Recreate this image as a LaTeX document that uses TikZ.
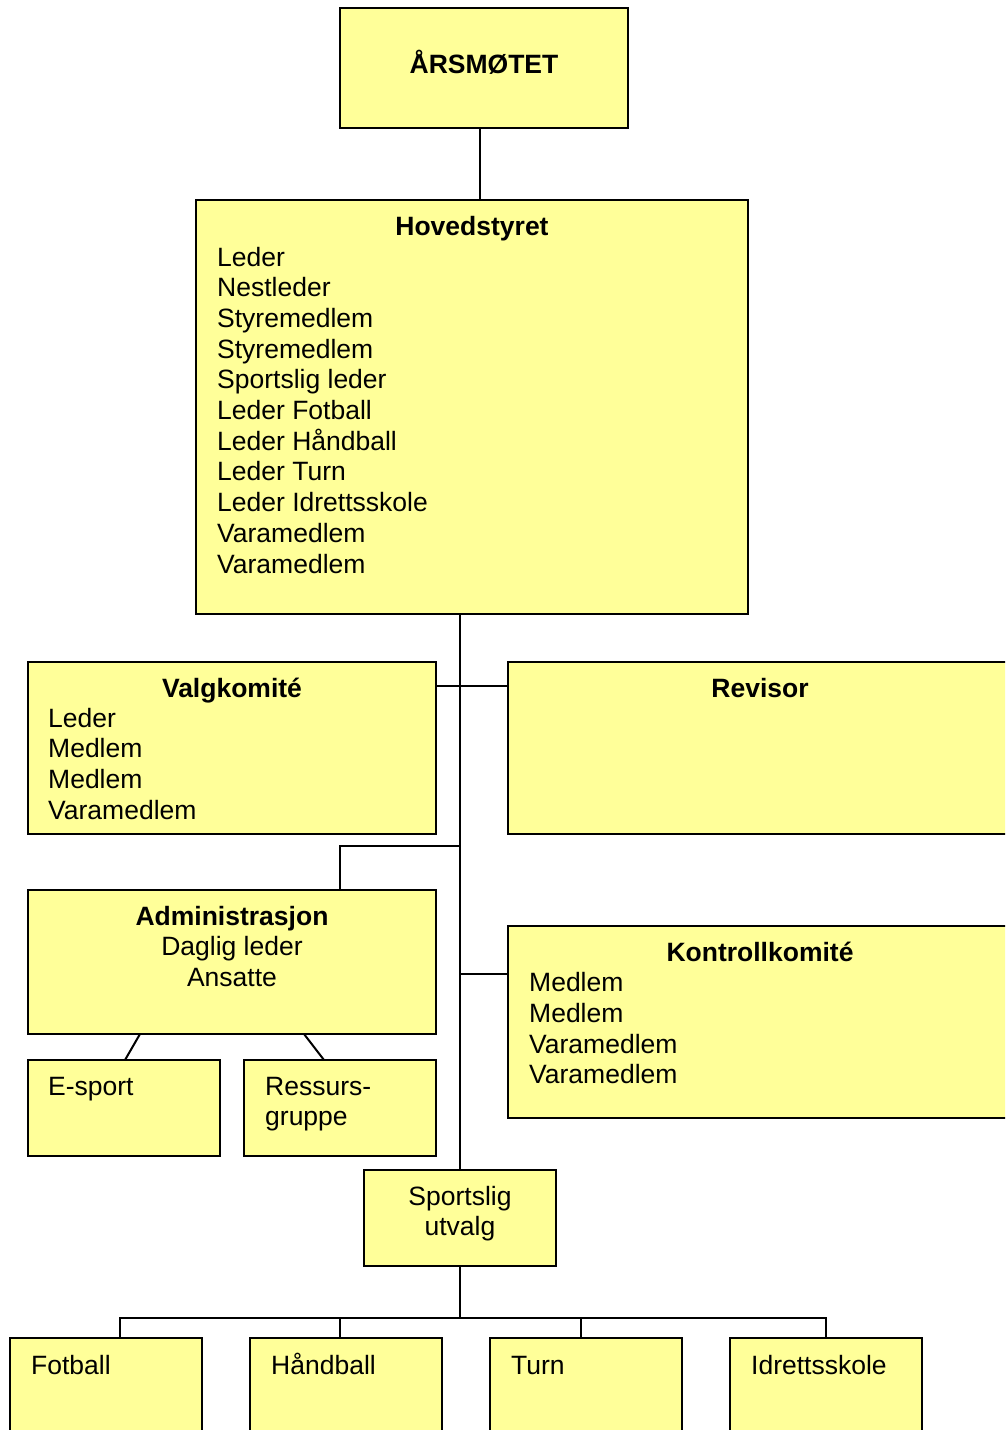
\documentclass[tikz,border=0pt]{standalone}
\usepackage{fontspec}
\setmainfont{Liberation Sans}
\definecolor{boxfill}{HTML}{FFFF99}
\begin{document}
\begin{tikzpicture}[x=1pt,y=-1pt,
  box/.style={draw=black,line width=2pt,fill=boxfill,inner sep=0pt,outer sep=0pt,anchor=north west},
  conn/.style={draw=black,line width=2pt},
  txt/.style={inner sep=0pt,font=\fontsize{26.5}{30.7}\selectfont},
  lt/.style={txt,anchor=base west},
  ct/.style={txt,anchor=base},
  tt/.style={txt,anchor=base,font=\fontsize{26.5}{30.7}\selectfont\bfseries}]
\useasboundingbox (0,0) rectangle (1005,1430);
\clip (0,0) rectangle (1005,1430);
\fill[white] (0,0) rectangle (1005,1430);

% boxes
\node[box,minimum width=288,minimum height=120] (ars) at (340,8) {};
\node[box,minimum width=552,minimum height=414] (hs) at (196,200) {};
\node[box,minimum width=408,minimum height=172] (valg) at (28,662) {};
\node[box,minimum width=510,minimum height=172] (rev) at (508,662) {};
\node[box,minimum width=408,minimum height=144] (adm) at (28,890) {};
\node[box,minimum width=192,minimum height=96] (es) at (28,1060) {};
\node[box,minimum width=192,minimum height=96] (rg) at (244,1060) {};
\node[box,minimum width=510,minimum height=192] (kk) at (508,926) {};
\node[box,minimum width=192,minimum height=96] (su) at (364,1170) {};
\node[box,minimum width=192,minimum height=120] (fot) at (10,1338) {};
\node[box,minimum width=192,minimum height=120] (hb) at (250,1338) {};
\node[box,minimum width=192,minimum height=120] (turn) at (490,1338) {};
\node[box,minimum width=192,minimum height=120] (idr) at (730,1338) {};

% connectors
\draw[conn] (ars.south -| 480,0) -- (hs.north -| 480,0);
\draw[conn] (hs.south -| su.north) -- (su.north);
\draw[conn] (valg.east |- 0,686) -- (rev.west |- 0,686);
\coordinate (ja) at (su.north |- 0,846);
\draw[conn] (ja) -| (adm.north -| 340,0);
\draw[conn] (su.north |- 0,974) -- (kk.west |- 0,974);
\draw[conn] (adm.south -| 140,0) -- (es.north -| 125,0);
\draw[conn] (adm.south -| 304,0) -- (rg.north -| 324,0);
\coordinate (jb) at (su.south |- 0,1318);
\draw[conn] (su.south) -- (jb);
\draw[conn] (fot.north -| 120,0) -- (120,1318) -- (826,1318) -- (idr.north -| 826,0);
\draw[conn] (jb -| 340,0) -- (hb.north -| 340,0);
\draw[conn] (jb -| 581,0) -- (turn.north -| 581,0);

% texts
\node[tt] (t-ars) at (484,73) {ÅRSMØTET};
\node[tt] (t-hs) at (472,235) {Hovedstyret};
\node[lt] (h1) at (217,266) {Leder};
\node[lt] (h2) at (217,296.7) {Nestleder};
\node[lt] (h3) at (217,327.4) {Styremedlem};
\node[lt] (h4) at (217,358.1) {Styremedlem};
\node[lt] (h5) at (217,388.8) {Sportslig leder};
\node[lt] (h6) at (217,419.5) {Leder Fotball};
\node[lt] (h7) at (217,450.2) {Leder Håndball};
\node[lt] (h8) at (217,480.9) {Leder Turn};
\node[lt] (h9) at (217,511.6) {Leder Idrettsskole};
\node[lt] (h10) at (217,542.3) {Varamedlem};
\node[lt] (h11) at (217,573) {Varamedlem};

\node[tt] (t-valg) at (232,697) {Valgkomité};
\node[lt] (v1) at (48,727) {Leder};
\node[lt] (v2) at (48,757.7) {Medlem};
\node[lt] (v3) at (48,788.4) {Medlem};
\node[lt] (v4) at (48,819.1) {Varamedlem};

\node[tt] (t-rev) at (760,697) {Revisor};

\node[tt] (t-adm) at (232,925) {Administrasjon};
\node[ct] (a1) at (232,955.7) {Daglig leder};
\node[ct] (a2) at (232,986.4) {Ansatte};

\node[lt] (t-es) at (48,1095) {E-sport};
\node[lt] (t-rg1) at (265,1095) {Ressurs-};
\node[lt] (t-rg2) at (265,1125.7) {gruppe};

\node[tt] (t-kk) at (760,961) {Kontrollkomité};
\node[lt] (k1) at (529,991.7) {Medlem};
\node[lt] (k2) at (529,1022.4) {Medlem};
\node[lt] (k3) at (529,1053.1) {Varamedlem};
\node[lt] (k4) at (529,1083.8) {Varamedlem};

\node[ct] (s1) at (460,1205) {Sportslig};
\node[ct] (s2) at (460,1235.7) {utvalg};

\node[lt] (t-fot) at (31,1374) {Fotball};
\node[lt] (t-hb) at (271,1374) {Håndball};
\node[lt] (t-turn) at (511,1374) {Turn};
\node[lt] (t-idr) at (751,1374) {Idrettsskole};
\end{tikzpicture}
\end{document}
